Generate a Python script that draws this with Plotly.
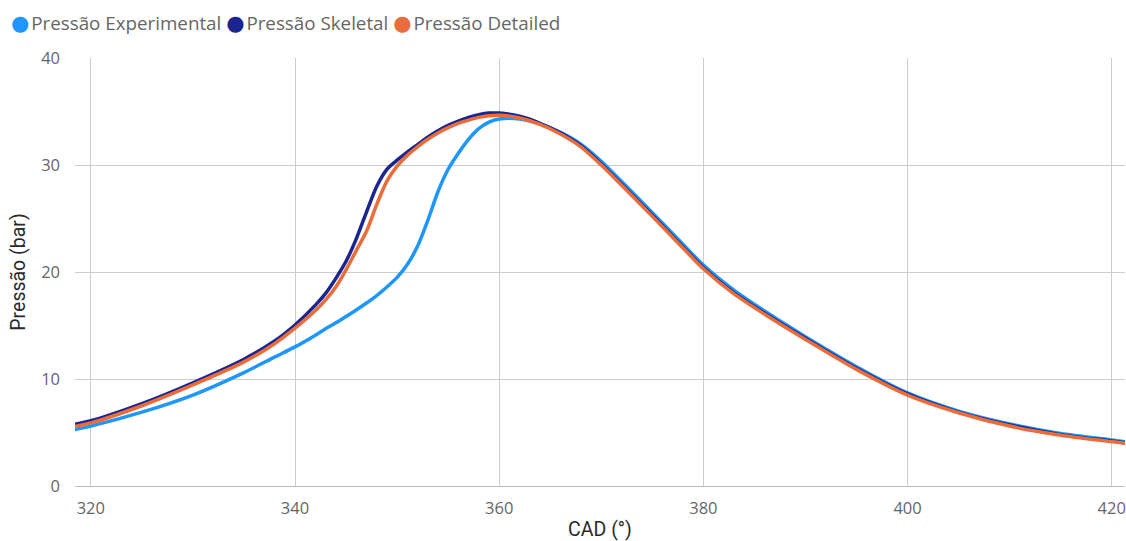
import plotly.graph_objects as go

cad = [318, 320, 325, 330, 335, 338, 340, 342, 343, 344, 345, 346, 347, 348, 349, 350,
       351, 352, 353, 354, 355, 356, 357, 358, 359, 360, 362, 364, 366, 368, 370,
       372, 375, 378, 380, 383, 386, 390, 395, 400, 405, 410, 415, 420, 422]

p_exp = [5.2, 5.6, 6.9, 8.5, 10.6, 12.05, 13.0, 14.1, 14.7, 15.25, 15.85, 16.45, 17.1, 17.8, 18.6, 19.5,
         20.7, 22.4, 24.8, 27.5, 29.6, 31.1, 32.4, 33.4, 34.0, 34.3, 34.3, 33.85, 33.05, 31.95, 30.35,
         28.45, 25.55, 22.6, 20.65, 18.3, 16.35, 13.95, 11.15, 8.7, 7.0, 5.8, 4.9, 4.3, 4.05]

p_skel = [5.7, 6.1, 7.7, 9.65, 11.85, 13.55, 15.05, 16.9, 18.0, 19.4, 21.0, 23.1, 25.6, 28.0, 29.6, 30.45,
          31.2, 31.9, 32.6, 33.2, 33.7, 34.1, 34.45, 34.7, 34.85, 34.85, 34.55, 33.9, 33.0, 31.8, 30.1,
          28.2, 25.3, 22.35, 20.4, 18.05, 16.15, 13.8, 11.0, 8.6, 6.9, 5.7, 4.8, 4.2, 3.95]

p_det = [5.5, 5.9, 7.5, 9.45, 11.6, 13.3, 14.75, 16.4, 17.4, 18.6, 20.2, 22.0, 23.8, 26.3, 28.5, 29.9,
         30.9, 31.7, 32.4, 33.0, 33.5, 33.9, 34.2, 34.45, 34.6, 34.65, 34.4, 33.8, 32.9, 31.7, 30.0,
         28.1, 25.2, 22.25, 20.3, 17.95, 16.05, 13.7, 10.9, 8.5, 6.85, 5.6, 4.75, 4.15, 3.9]

names = ["Pressão Experimental", "Pressão Skeletal", "Pressão Detailed"]
colors = ["#1E96FC", "#1A2590", "#E96D3A"]
series = [p_exp, p_skel, p_det]

x_ticks = [320, 340, 360, 380, 400, 420]
y_ticks = [0, 10, 20, 30, 40]

fig = go.Figure()
for name, col, ys in zip(names, colors, series):
    fig.add_trace(go.Scatter(x=cad, y=ys, mode="lines", name=name,
                             line=dict(color=col, width=3.5, shape="spline", smoothing=0.8),
                             showlegend=False))

legend_text = " ".join(
    f'<span style="color:{c};font-family:DejaVu Sans;font-size:21px">●</span>\u200a{n}'
    for n, c in zip(names, colors)
)
fig.add_annotation(text=legend_text, xref="paper", yref="paper", x=-0.063, y=1.0814,
                   xanchor="left", yanchor="middle", showarrow=False, align="left",
                   font=dict(family="Open Sans", size=18.8, color="#666666"))

fig.update_layout(
    width=1126, height=541,
    margin=dict(l=75, r=0, t=58, b=53),
    paper_bgcolor="white", plot_bgcolor="white",
    showlegend=False,
    font=dict(family="Open Sans", color="#666666", size=16.5),
    xaxis=dict(range=[318.45, 421.3], tickvals=x_ticks, showgrid=True, gridcolor="#cccccc",
               gridwidth=1.4, zeroline=False, showline=True, linecolor="#bbbbbb", linewidth=1.4,
               ticks="", ticklabelstandoff=7, ticklabeloverflow="allow",
               title=dict(text="CAD (°)", font=dict(family="Roboto", size=19.5, color="#2a2a2a"),
                          standoff=8)),
    yaxis=dict(range=[0, 40], tickvals=y_ticks, showgrid=True, gridcolor="#cccccc",
               gridwidth=1.4, zeroline=False, showline=False, ticks="", ticklabelstandoff=14,
               title=dict(text="Pressão (bar)", font=dict(family="Roboto", size=19.5, color="#2a2a2a"),
                          standoff=10)),
)

fig.write_html("out.html")
